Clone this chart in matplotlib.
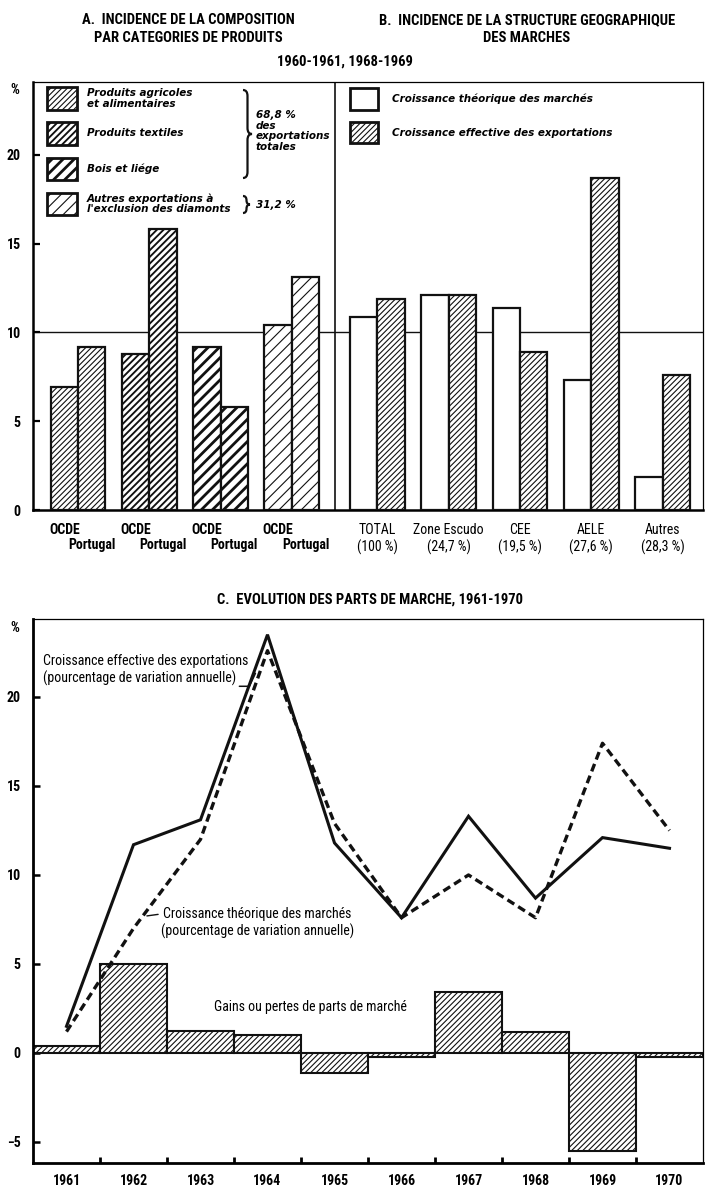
import numpy as np
import matplotlib
matplotlib.use("Agg")
import matplotlib.pyplot as plt
from matplotlib import font_manager
from matplotlib.patches import Rectangle, PathPatch
from matplotlib.path import Path

# ---- data ----
productLabels = ["Produits agricoles\net alimentaires", "Produits textiles", "Bois et liége",
                 "Autres exportations à\nl'exclusion des diamonts"]
productOcde = [6.9, 8.8, 9.2, 10.4]
productPortugal = [9.2, 15.8, 5.8, 13.1]

marketNames = ["TOTAL", "Zone Escudo", "CEE", "AELE", "Autres"]
marketShares = ["(100 %)", "(24,7 %)", "(19,5 %)", "(27,6 %)", "(28,3 %)"]
marketTheoretical = [10.85, 12.1, 11.4, 7.3, 1.85]
marketEffective = [11.9, 12.1, 8.9, 18.7, 7.6]

years = [1961, 1962, 1963, 1964, 1965, 1966, 1967, 1968, 1969, 1970]
effectiveGrowth = [1.5, 11.7, 13.1, 23.5, 11.8, 7.6, 13.3, 8.7, 12.1, 11.5]
theoreticalGrowth = [1.2, 7.0, 12.0, 22.6, 12.9, 7.6, 10.0, 7.6, 17.4, 12.5]
shareGains = [0.4, 5.0, 1.25, 1.0, -1.1, -0.2, 3.4, 1.2, -5.5, -0.2]

# ---- styles ----
ink = "#111111"
productHatches = ["//////", "/////", "///", "///"]
productHatchWidths = [0.8, 1.35, 2.0, 0.8]
fineHatch = "//////"

available = {f.name for f in font_manager.fontManager.ttflist}
narrowCandidates = ["Liberation Sans Narrow", "Roboto Condensed", "DejaVu Sans Condensed", "Open Sans Condensed"]
narrow = next((n for n in narrowCandidates if n in available), "Liberation Sans")
italicFont = "DejaVu Sans"

W, H = 705, 1188


def fx(x):
    return x / W


def fy(y):
    return 1 - y / H


def styleHatch(patch, width):
    if hasattr(patch, "set_hatch_linewidth"):
        patch.set_hatch_linewidth(width)


def addBrace(x, y0, y1, w):
    ym = (y0 + y1) / 2
    r = min(6, (y1 - y0) / 4)
    pts = [(x, y0), (x + w / 2, y0), (x + w / 2, y0 + r),
           (x + w / 2, ym - r), (x + w / 2, ym), (x + w, ym),
           (x + w / 2, ym), (x + w / 2, ym + r),
           (x + w / 2, y1 - r), (x + w / 2, y1), (x, y1)]
    codes = [Path.MOVETO, Path.CURVE3, Path.CURVE3,
             Path.LINETO, Path.CURVE3, Path.CURVE3,
             Path.CURVE3, Path.CURVE3,
             Path.LINETO, Path.CURVE3, Path.CURVE3]
    path = Path([(fx(px), fy(py)) for px, py in pts], codes)
    fig.add_artist(PathPatch(path, transform=fig.transFigure, facecolor="none",
                             edgecolor=ink, lw=1.6))


def addLegendPatch(x0, y0, x1, y1, hatch, hatchWidth):
    r = Rectangle((fx(x0), fy(y1)), fx(x1) - fx(x0), fy(y0) - fy(y1), transform=fig.transFigure,
                  facecolor="white", edgecolor=ink, lw=2.0, hatch=hatch)
    styleHatch(r, hatchWidth)
    fig.add_artist(r)


def legendText(x, y, s, size=7.5):
    fig.text(fx(x), fy(y), s, fontfamily=italicFont, fontstyle="italic", fontweight="bold",
             fontsize=size, ha="left", va="center", linespacing=1.05)


plt.rcParams["hatch.linewidth"] = 0.8
fig = plt.figure(figsize=(W / 100, H / 100), dpi=100)

# ================= top chart (A + B) =================
axTop = fig.add_axes([fx(33), fy(510), fx(703) - fx(33), fy(82) - fy(510)])
leftX = np.arange(len(productOcde))
rightX = np.arange(len(marketNames)) + 4.2
barWidth = 0.385

ocdeBars = axTop.bar(leftX - barWidth / 2, productOcde, barWidth, facecolor="white",
                     edgecolor=ink, linewidth=1.6, zorder=3)
portugalBars = axTop.bar(leftX + barWidth / 2, productPortugal, barWidth, facecolor="white",
                         edgecolor=ink, linewidth=1.6, zorder=3)
for bars in (ocdeBars, portugalBars):
    for patch, hatch, hw in zip(bars, productHatches, productHatchWidths):
        patch.set_hatch(hatch)
        styleHatch(patch, hw)

axTop.bar(rightX - barWidth / 2, marketTheoretical, barWidth, facecolor="white",
          edgecolor=ink, linewidth=1.6, zorder=3)
effBars = axTop.bar(rightX + barWidth / 2, marketEffective, barWidth, facecolor="white",
                    edgecolor=ink, linewidth=1.6, hatch=fineHatch, zorder=3)
for patch in effBars:
    styleHatch(patch, 0.8)

axTop.axhline(10, color=ink, lw=1.0, zorder=1)
axTop.axvline(3.6, color=ink, lw=1.2, zorder=1)
axTop.set_xlim(-0.631, 8.766)
axTop.set_ylim(0, 24.1)

tickPos = list(leftX - barWidth / 2) + list(rightX)
tickLab = ["OCDE"] * len(leftX) + [f"{n}\n{s}" for n, s in zip(marketNames, marketShares)]
axTop.set_xticks(tickPos)
axTop.set_xticklabels(tickLab)
axTop.tick_params(axis="x", length=0, pad=9)
for i, lab in enumerate(axTop.get_xticklabels()):
    lab.set_fontfamily(narrow)
    lab.set_fontsize(10)
    lab.set_linespacing(1.3)
    lab.set_fontweight("bold" if i < len(leftX) else "normal")
for x in leftX + barWidth / 2:
    axTop.annotate("Portugal", xy=(x, 0), xycoords=("data", "axes fraction"),
                   xytext=(0, -25), textcoords="offset points", ha="center", va="center",
                   fontfamily=narrow, fontweight="bold", fontsize=10)

axTop.set_yticks([0, 5, 10, 15, 20])
axTop.tick_params(axis="y", direction="in", length=5, width=1.6, pad=9)
for lab in axTop.get_yticklabels():
    lab.set_fontfamily(narrow)
    lab.set_fontweight("bold")
    lab.set_fontsize(10)

for side in ("left", "bottom"):
    axTop.spines[side].set_linewidth(1.8)
for side in ("top", "right"):
    axTop.spines[side].set_linewidth(0.9)

fig.text(fx(15), fy(90), "%", fontfamily=narrow, fontweight="bold", fontsize=10, ha="center", va="center")

# titles
fig.text(fx(188), fy(29), "A.  INCIDENCE DE LA COMPOSITION\nPAR CATEGORIES DE PRODUITS",
         fontfamily=narrow, fontweight="bold", fontsize=10.5, ha="center", va="center", linespacing=1.3)
fig.text(fx(527), fy(29), "B.  INCIDENCE DE LA STRUCTURE GEOGRAPHIQUE\nDES MARCHES",
         fontfamily=narrow, fontweight="bold", fontsize=10.5, ha="center", va="center", linespacing=1.3)
fig.text(fx(345), fy(62), "1960-1961, 1968-1969", fontfamily=narrow, fontweight="bold",
         fontsize=10.5, ha="center", va="center")

# legend A
legendRows = [(87, 110), (122, 145), (158, 180), (193, 215)]
for (y0, y1), label, hatch, hw in zip(legendRows, productLabels, productHatches, productHatchWidths):
    addLegendPatch(47, y0, 77, y1, hatch, hw)
    legendText(87, (y0 + y1) / 2, label)
addBrace(243, 90, 178, 9)
legendText(256, 131, "68,8 %\ndes\nexportations\ntotales")
addBrace(243, 196, 213, 7)
legendText(256, 205, "31,2 %")

# legend B
addLegendPatch(350, 88, 378, 110, None, 0.8)
addLegendPatch(350, 122, 378, 143, fineHatch, 0.8)
legendText(392, 99, "Croissance théorique des marchés")
legendText(392, 133, "Croissance effective des exportations")

# ================= bottom chart (C) =================
axBot = fig.add_axes([fx(33), fy(1163), fx(703) - fx(33), fy(619) - fy(1163)])
gainBars = axBot.bar(years, shareGains, width=1.0, facecolor="white", edgecolor=ink,
                     linewidth=1.5, hatch=fineHatch, zorder=2)
for patch in gainBars:
    styleHatch(patch, 0.8)
axBot.plot(years, effectiveGrowth, color=ink, lw=2.2, zorder=3, solid_joinstyle="miter")
axBot.plot(years, theoreticalGrowth, color=ink, lw=2.4, linestyle=(0, (2.4, 1.4)), zorder=3)

axBot.set_xlim(years[0] - 0.5, years[-1] + 0.5)
axBot.set_ylim(-6.18, 24.38)

axBot.set_xticks([y + 0.5 for y in years[:-1]])
axBot.set_xticklabels([])
axBot.set_xticks(years, minor=True)
axBot.set_xticklabels([str(y) for y in years], minor=True)
axBot.tick_params(axis="x", which="major", direction="in", length=4, width=2)
axBot.tick_params(axis="x", which="minor", length=0, pad=8)
for lab in axBot.get_xticklabels(minor=True):
    lab.set_fontfamily(narrow)
    lab.set_fontweight("bold")
    lab.set_fontsize(10)

axBot.set_yticks([-5, 0, 5, 10, 15, 20])
axBot.tick_params(axis="y", direction="in", length=5, width=1.8, pad=9)
for lab in axBot.get_yticklabels():
    lab.set_fontfamily(narrow)
    lab.set_fontweight("bold")
    lab.set_fontsize(10)

for side in ("left", "bottom"):
    axBot.spines[side].set_linewidth(2.0)
for side in ("top", "right"):
    axBot.spines[side].set_linewidth(0.9)

fig.text(fx(15), fy(628), "%", fontfamily=narrow, fontweight="bold", fontsize=10, ha="center", va="center")
fig.text(fx(370), fy(600), "C.  EVOLUTION DES PARTS DE MARCHE, 1961-1970", fontfamily=narrow,
         fontweight="bold", fontsize=10.5, ha="center", va="center")

# annotations
axBot.text(1960.65, 21.5, "Croissance effective des exportations\n(pourcentage de variation annuelle)",
           fontfamily=narrow, fontsize=10, ha="left", va="center", linespacing=1.25)
effTargetX = 1963.82
effTargetY = np.interp(effTargetX, years, effectiveGrowth)
axBot.annotate("", xy=(effTargetX, effTargetY - 0.3), xytext=(1963.58, 20.6),
               arrowprops=dict(arrowstyle="-", lw=1.1, color=ink, shrinkA=0, shrinkB=0,
                               connectionstyle="angle,angleA=0,angleB=65,rad=0"))
theoTargetX = 1962.2
theoTargetY = np.interp(theoTargetX, years, theoreticalGrowth)
axBot.annotate("Croissance théorique des marchés\n(pourcentage de variation annuelle)",
               xy=(theoTargetX, theoTargetY - 0.3), xytext=(1963.85, 7.3),
               fontfamily=narrow, fontsize=10, ha="center", va="center", linespacing=1.25,
               arrowprops=dict(arrowstyle="-", lw=1.0, color=ink, relpos=(0.0, 0.78),
                               shrinkA=0, shrinkB=0))
axBot.text(1964.64, 2.6, "Gains ou pertes de parts de marché", fontfamily=narrow, fontsize=10,
           ha="center", va="center")

fig.savefig("out.png", dpi=100, facecolor="white")
